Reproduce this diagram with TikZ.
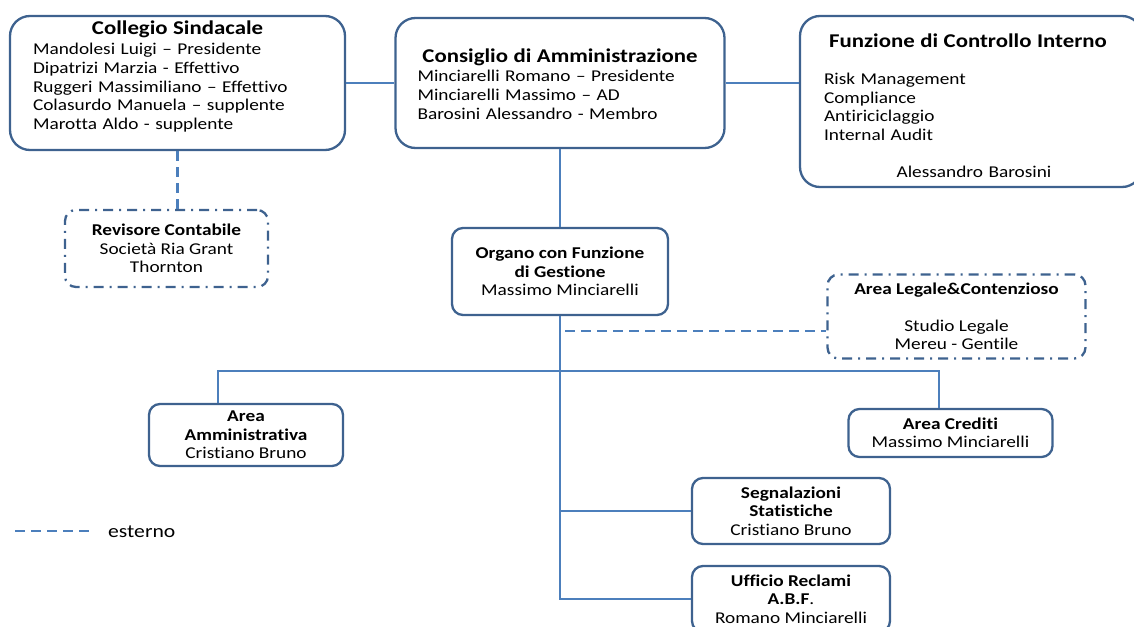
\documentclass[tikz,border=0pt]{standalone}
\usepackage{fontspec}
\setmainfont{Carlito}[FakeStretch=1.17, Ligatures=NoCommon]
\usepackage{xcolor}
\usetikzlibrary{positioning,calc}
\definecolor{boxblue}{RGB}{62,98,143}
\definecolor{lineblue}{RGB}{76,127,188}

\begin{document}
\begin{tikzpicture}[x=1pt, y=-1pt,
  big/.style={draw=boxblue, line width=2.3pt, rounded corners=20pt, inner sep=0pt},
  small/.style={draw=boxblue, line width=2.3pt, rounded corners=11pt, inner sep=0pt,
    align=center, font=\fontsize{16.5}{18.5}\selectfont},
  ext/.style={small, dash pattern=on 10pt off 6pt on 2pt off 6pt},
  txt/.style={inner sep=0pt, align=left, font=\fontsize{16.5}{18.6}\selectfont},
  link/.style={draw=lineblue, line width=2.7pt},
  extlink/.style={link, dash pattern=on 10pt off 6pt}]
  \useasboundingbox (0,0) rectangle (1134,626);

  % vertici
  \node[big, minimum width=335, minimum height=134] (colleg) at (177.5,83) {};
  \node[txt, text width=289, anchor=north] (collegtxt) at (177.5,20.5)
    {\makebox[\hsize]{\fontsize{19.5}{20}\selectfont\bfseries Collegio Sindacale}\\[2pt]
     Mandolesi Luigi – Presidente\\
     Dipatrizi Marzia - Effettivo\\
     Ruggeri Massimiliano – Effettivo\\
     Colasurdo Manuela – supplente\\
     Marotta Aldo - supplente};

  \node[big, minimum width=329, minimum height=130] (cda) at (560,83) {};
  \node[txt, text width=285, anchor=north] (cdatxt) at (560,48.5)
    {\makebox[\hsize]{\fontsize{19.5}{20}\selectfont\bfseries Consiglio di Amministrazione}\\[1pt]
     Minciarelli Romano – Presidente\\
     Minciarelli Massimo – AD\\
     Barosini Alessandro - Membro};

  \node[big, minimum width=342, minimum height=171] (controllo) at (971,101.5) {};
  \node[txt, text width=288, anchor=north] (controllotxt) at (968,33.5)
    {\makebox[\hsize]{\fontsize{19.5}{20}\selectfont\bfseries Funzione di Controllo Interno}\\[18.5pt]
     Risk Management\\
     Compliance\\
     Antiriciclaggio\\
     Internal Audit\\[18.5pt]
     \makebox[\hsize]{\hspace{12pt}Alessandro Barosini}};

  \node[ext, minimum width=203, minimum height=77] (revisore) at (166.5,248.5)
    {\textbf{Revisore Contabile}\\ Società Ria Grant\\ Thornton};

  \node[small, minimum width=216, minimum height=87] (organo) at (560,271.5)
    {\textbf{Organo con Funzione}\\ \textbf{di Gestione}\\ Massimo Minciarelli};

  \node[ext, minimum width=258, minimum height=84] (legale) at (956.5,316.5)
    {\textbf{Area Legale\&Contenzioso}\\[18.5pt] Studio Legale\\ Mereu - Gentile};

  % aree operative
  \node[small, minimum width=194, minimum height=62] (amm) at (246,435)
    {\textbf{Area}\\ \textbf{Amministrativa}\\ Cristiano Bruno};
  \node[small, minimum width=204, minimum height=48] (crediti) at (950.5,433)
    {\textbf{Area Crediti}\\ Massimo Minciarelli};
  \node[small, minimum width=198, minimum height=66] (segnal) at (791,511)
    {\textbf{Segnalazioni}\\ \textbf{Statistiche}\\ Cristiano Bruno};
  \node[small, minimum width=198, minimum height=66] (reclami) at (791,599)
    {\textbf{Ufficio Reclami}\\ \textbf{A.B.F}.\\ Romano Minciarelli};

  \coordinate (busl) at (218,371);
  \coordinate (busr) at (939,371);
  \coordinate (tap) at (565,331);

  % collegamenti
  \path[link] (colleg.east) -- (cda.west);
  \path[link] (cda.east) -- (cda.east -| controllo.west);
  \path[link] (cda.south) -- (organo.north);
  \path[link] (organo.south) -- (organo.south |- reclami.west) -- (reclami.west);
  \path[link] (organo.south |- segnal.west) -- (segnal.west);
  \path[link] (busl |- amm.north) -- (busl) -- (busr) -- (busr |- crediti.north);
  \path[extlink] (colleg.south) -- (colleg.south |- revisore.north);
  \path[extlink] (tap) -- (tap -| legale.west);

  % legenda
  \node[inner sep=0pt, anchor=west, font=\fontsize{18.5}{20}\selectfont] (esterno) at (108,531.5) {esterno};
  \coordinate (legstart) at (15,531);
  \path[extlink] (legstart) -- ($(esterno.west |- legstart)+(-17,0)$);
\end{tikzpicture}
\end{document}
